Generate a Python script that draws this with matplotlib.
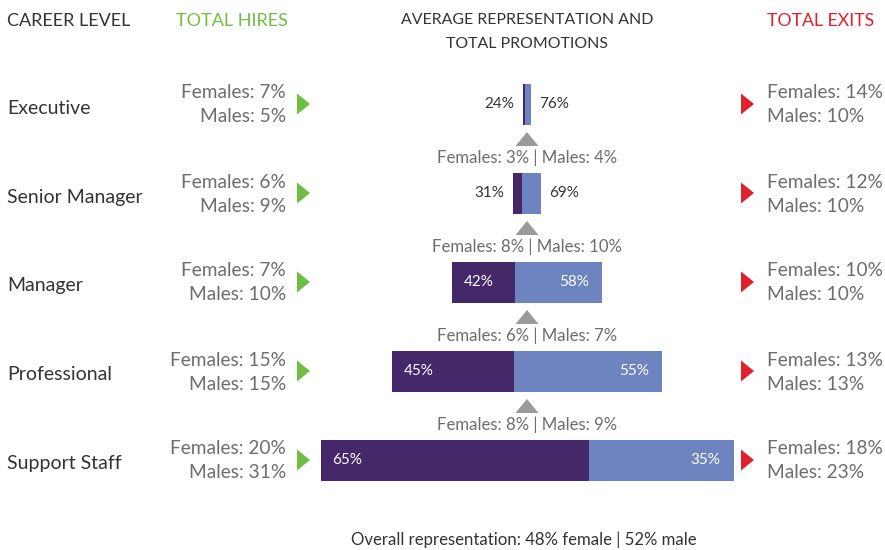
import matplotlib
matplotlib.use("Agg")
import matplotlib.pyplot as plt

plt.rcParams['font.family'] = ['Lato', 'DejaVu Sans']

levels = ["Executive", "Senior Manager", "Manager", "Professional", "Support Staff"]
female_pct = [24, 31, 42, 45, 65]
male_pct = [76, 69, 58, 55, 35]
# relative headcount per level (arbitrary units)
headcount = [7.3, 28, 150, 270, 413]
hires_f = [7, 6, 7, 15, 20]
hires_m = [5, 9, 10, 15, 31]
exits_f = [14, 12, 10, 13, 18]
exits_m = [10, 10, 10, 13, 23]
# promotions into the level above (Senior->Exec, Manager->Senior, ...)
promo_f = [3, 8, 6, 8]
promo_m = [4, 10, 7, 9]
overall_f, overall_m = 48, 52

c_fem = "#45286a"
c_male = "#6e84c1"
c_green = "#6fbe44"
c_red = "#e2202c"
c_text = "#333333"
c_grey = "#6d6d6d"
c_arrow = "#9a9a9a"

fig = plt.figure(figsize=(8.85, 5.5), dpi=100)
ax = fig.add_axes([0, 0, 1, 1])
ax.set_xlim(0, 885)
ax.set_ylim(550, 0)
ax.axis("off")

cx = 527
y0, dy = 104, 89
bar_h = 41

ax.text(7, 21, "CAREER LEVEL", fontsize=13, color=c_text, va="center")
ax.text(176, 21, "TOTAL HIRES", fontsize=13, color=c_green, va="center")
ax.text(cx, 20, "AVERAGE REPRESENTATION AND", fontsize=11.4, color=c_text, ha="center", va="center")
ax.text(cx, 44, "TOTAL PROMOTIONS", fontsize=11.4, color=c_text, ha="center", va="center")
ax.text(767, 21, "TOTAL EXITS", fontsize=12.7, color=c_red, va="center")

for i, lvl in enumerate(levels):
    y = y0 + i * dy
    w = headcount[i]
    left = cx - w / 2
    wf = w * female_pct[i] / 100
    wm = w * male_pct[i] / 100
    ax.barh(y, wf, left=left, height=bar_h, color=c_fem)
    ax.barh(y, wm, left=left + wf, height=bar_h, color=c_male)
    if w > 100:
        ax.text(left + 12, y, f"{female_pct[i]}%", color="white", fontsize=11, va="center", ha="left")
        ax.text(left + w - 13, y, f"{male_pct[i]}%", color="white", fontsize=11, va="center", ha="right")
    else:
        ax.text(left - 9, y, f"{female_pct[i]}%", color=c_text, fontsize=11, va="center", ha="right")
        ax.text(left + w + 8, y, f"{male_pct[i]}%", color=c_text, fontsize=11, va="center", ha="left")

    ax.text(7, y + 4.5 - i * 0.25, lvl, fontsize=14, color=c_text, va="center")
    ax.text(286, y - 11, f"Females: {hires_f[i]}%", fontsize=13.8, color=c_grey, ha="right", va="center")
    ax.text(286, y + 13, f"Males: {hires_m[i]}%", fontsize=13.8, color=c_grey, ha="right", va="center")
    ax.fill([297, 297, 310], [y - 10.5, y + 10.5, y], color=c_green, lw=0)
    ax.fill([741, 741, 754], [y - 10.5, y + 10.5, y], color=c_red, lw=0)
    ax.text(767, y - 11, f"Females: {exits_f[i]}%", fontsize=13.8, color=c_grey, ha="left", va="center")
    ax.text(767, y + 13, f"Males: {exits_m[i]}%", fontsize=13.8, color=c_grey, ha="left", va="center")

for i in range(len(promo_f)):
    y = y0 + i * dy
    ax.fill([cx - 11.5, cx + 11.5, cx], [y + 42, y + 42, y + 28], color=c_arrow, lw=0)
    ax.text(cx, y + 54, f"Females: {promo_f[i]}% | Males: {promo_m[i]}%", fontsize=12.1,
            color=c_grey, ha="center", va="center")

ax.text(523.5, 540, f"Overall representation: {overall_f}% female | {overall_m}% male",
        fontsize=12.1, color=c_text, ha="center", va="center")

fig.savefig("out.png", dpi=100)
